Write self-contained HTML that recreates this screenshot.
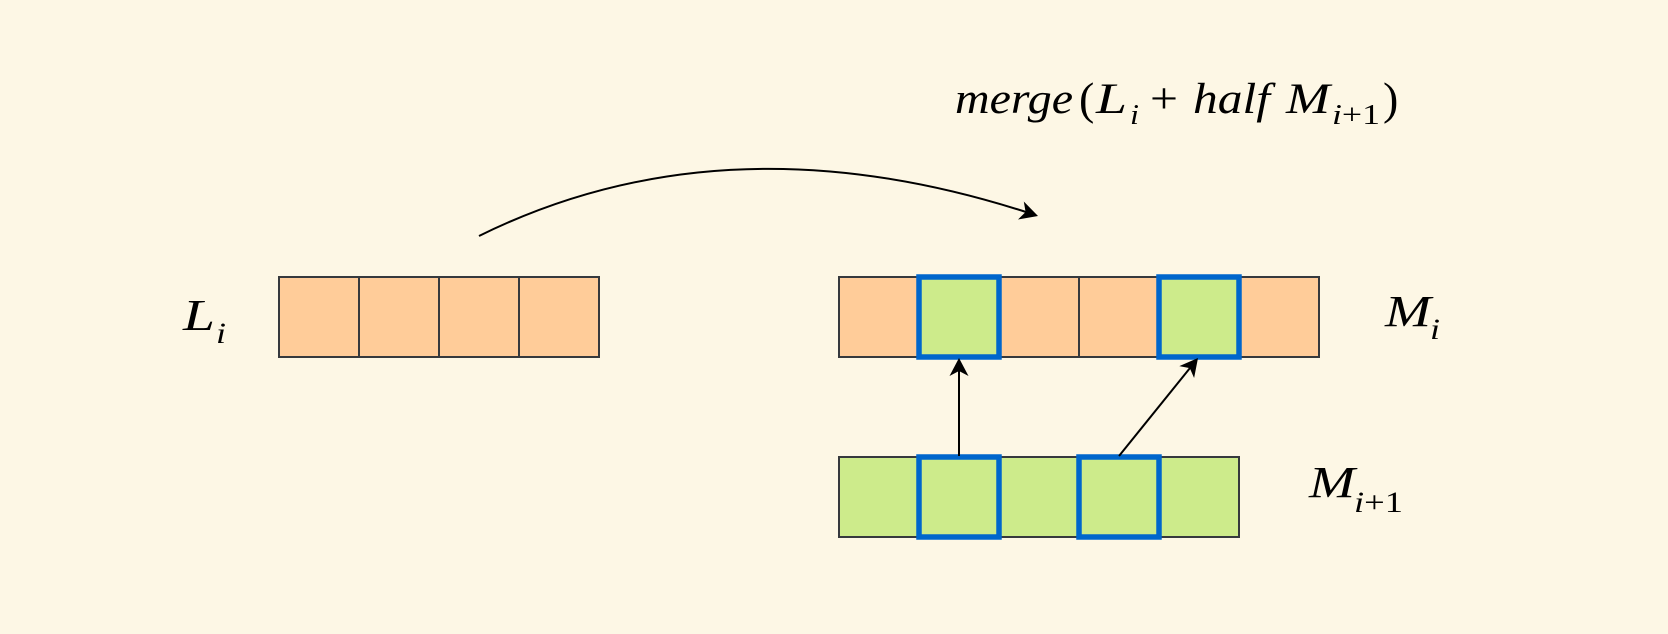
<!DOCTYPE html>
<html>
<head>
<meta charset="utf-8">
<style>
  html, body { margin: 0; padding: 0; background: #fdf7e5; }
  body { width: 1668px; height: 634px; overflow: hidden; }
  svg { display: block; }
  .m { font-family: "Liberation Serif", "DejaVu Serif", serif; font-style: italic; fill: #000; }
  .u { font-family: "Liberation Serif", "DejaVu Serif", serif; font-style: normal; fill: #000; }
</style>
</head>
<body>
<svg width="1668" height="634" viewBox="0 0 1668 634" xmlns="http://www.w3.org/2000/svg">
  <rect x="0" y="0" width="1668" height="634" fill="#fdf7e5"/>

  <!-- L_i row -->
  <g stroke="#36393d" stroke-width="2" fill="#ffcc99">
    <rect x="279" y="277" width="80" height="80"/>
    <rect x="359" y="277" width="80" height="80"/>
    <rect x="439" y="277" width="80" height="80"/>
    <rect x="519" y="277" width="80" height="80"/>
  </g>

  <!-- M_i row -->
  <g stroke="#36393d" stroke-width="2" fill="#ffcc99">
    <rect x="839" y="277" width="80" height="80"/>
    <rect x="919" y="277" width="80" height="80"/>
    <rect x="999" y="277" width="80" height="80"/>
    <rect x="1079" y="277" width="80" height="80"/>
    <rect x="1159" y="277" width="80" height="80"/>
    <rect x="1239" y="277" width="80" height="80"/>
  </g>

  <!-- M_{i+1} row -->
  <g stroke="#36393d" stroke-width="2" fill="#cdeb8b">
    <rect x="839" y="457" width="80" height="80"/>
    <rect x="919" y="457" width="80" height="80"/>
    <rect x="999" y="457" width="80" height="80"/>
    <rect x="1079" y="457" width="80" height="80"/>
    <rect x="1159" y="457" width="80" height="80"/>
  </g>

  <!-- highlighted cells -->
  <g stroke="#0066cc" stroke-width="5.5" fill="#cdeb8b">
    <rect x="919" y="277" width="80" height="80"/>
    <rect x="1159" y="277" width="80" height="80"/>
    <rect x="919" y="457" width="80" height="80"/>
    <rect x="1079" y="457" width="80" height="80"/>
  </g>

  <!-- arrows -->
  <g stroke="#000" stroke-width="2" fill="none">
    <line x1="959" y1="456" x2="959" y2="368"/>
    <line x1="1119" y1="456" x2="1190" y2="368"/>
    <path d="M479,236 Q724,115 1026,212"/>
  </g>
  <g fill="#000" stroke="none">
    <polygon points="959,358 949.5,376 959,371 968.5,376"/>
    <polygon points="1198,358 1194.1,378 1189.8,368.1 1179.3,366.1"/>
    <polygon points="1038,216 1018,219.5 1025.6,212 1023.8,201.5"/>
  </g>

  <!-- L_i label -->
  <text class="m" x="183" y="330" font-size="44" textLength="32" lengthAdjust="spacingAndGlyphs">L</text>
  <text class="m" x="216" y="343" font-size="30" textLength="10" lengthAdjust="spacingAndGlyphs">i</text>

  <!-- M_i label -->
  <text class="m" x="1385" y="326" font-size="44" textLength="46" lengthAdjust="spacingAndGlyphs">M</text>
  <text class="m" x="1430" y="339" font-size="30" textLength="10" lengthAdjust="spacingAndGlyphs">i</text>

  <!-- M_{i+1} label -->
  <text class="m" x="1309" y="497" font-size="44" textLength="46" lengthAdjust="spacingAndGlyphs">M</text>
  <text x="1354" y="512" font-size="30" textLength="49" lengthAdjust="spacingAndGlyphs"><tspan class="m">i</tspan><tspan class="u">+1</tspan></text>

  <!-- merge expression -->
  <text class="m" x="955" y="113" font-size="43" textLength="118" lengthAdjust="spacingAndGlyphs">merge</text>
  <text class="u" x="1079" y="114" font-size="46">(</text>
  <text class="m" x="1096" y="113" font-size="43" textLength="31" lengthAdjust="spacingAndGlyphs">L</text>
  <text class="m" x="1130" y="124" font-size="29" textLength="9" lengthAdjust="spacingAndGlyphs">i</text>
  <text class="u" x="1150" y="113" font-size="43" textLength="28" lengthAdjust="spacingAndGlyphs">+</text>
  <text class="m" x="1193" y="113" font-size="43" textLength="77" lengthAdjust="spacingAndGlyphs">half</text>
  <text class="m" x="1286" y="113" font-size="43" textLength="44" lengthAdjust="spacingAndGlyphs">M</text>
  <text x="1332" y="124" font-size="29" textLength="48" lengthAdjust="spacingAndGlyphs"><tspan class="m">i</tspan><tspan class="u">+1</tspan></text>
  <text class="u" x="1383" y="114" font-size="46">)</text>
</svg>
</body>
</html>
